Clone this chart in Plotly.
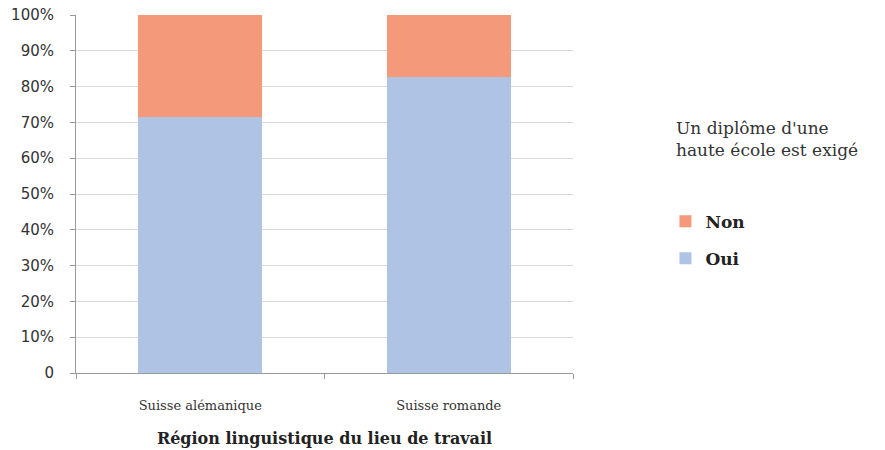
import plotly.graph_objects as go

categories = ["Suisse alémanique", "Suisse romande"]
oui = [71.4, 82.8]
non = [28.6, 17.2]
tick_vals = [0, 10, 20, 30, 40, 50, 60, 70, 80, 90, 100]
tick_text = ["0", "10%", "20%", "30%", "40%", "50%", "60%", "70%", "80%", "90%", "100%"]

fig = go.Figure()
fig.add_trace(go.Bar(x=categories, y=oui, name="Oui", marker_color="#AFC4E4",
                     legendgroup="oui", legendrank=2, marker_line_width=0))
fig.add_trace(go.Bar(x=categories, y=non, name="Non", marker_color="#F4997A",
                     legendgroup="non", legendrank=1, marker_line_width=0))

fig.update_layout(
    width=885, height=450,
    barmode="stack", bargap=0.5,
    plot_bgcolor="white", paper_bgcolor="white",
    margin=dict(l=76, r=312, t=15, b=77, autoexpand=False),
    font=dict(family="DejaVu Sans", color="#333333"),
    showlegend=True,
    legend=dict(x=1.186, xanchor="left", y=0.473, yanchor="top",
                traceorder="grouped", tracegroupgap=12,
                font=dict(family="DejaVu Serif", size=17, color="#222222", weight="bold"),
                itemwidth=30),
    xaxis=dict(showline=True, linecolor="#999999", linewidth=1,
               ticks="outside", ticklen=5, tickcolor="#999999",
               tickson="boundaries", automargin=False, ticklabelstandoff=20,
               tickfont=dict(family="DejaVu Serif", size=13, color="#333333"),
               title=dict(text="<b>Région linguistique du lieu de travail</b>",
                          font=dict(family="DejaVu Serif", size=16, color="#222222"),
                          standoff=21)),
    yaxis=dict(range=[0, 100], tickvals=tick_vals, ticktext=tick_text,
               showline=True, linecolor="#999999", linewidth=1,
               ticks="outside", ticklen=5, tickcolor="#999999",
               showgrid=True, gridcolor="#D9D9D9", gridwidth=1,
               automargin=False, ticklabelstandoff=13,
               tickfont=dict(family="DejaVu Sans", size=15, color="#333333")),
)
fig.add_annotation(xref="paper", yref="paper", x=1.204, y=0.718, xanchor="left", yanchor="top",
                   text="Un diplôme d'une<br>haute école est exigé", showarrow=False, align="left",
                   font=dict(family="DejaVu Serif", size=17, color="#333333"))

# remove the browser's default 8px body margin so the figure sits at the page origin
fig.write_html("out.html", config={"displayModeBar": False},
               post_script="document.body.style.margin='0';")
